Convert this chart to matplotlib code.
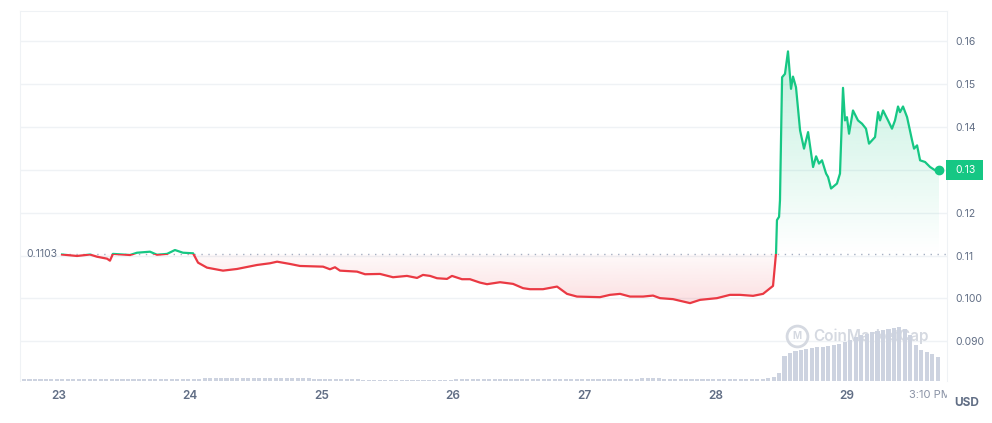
import numpy as np
import matplotlib.pyplot as plt
from matplotlib.colors import to_rgb
from matplotlib.patches import Rectangle
from matplotlib.path import Path
from matplotlib.transforms import blended_transform_factory, Bbox, TransformedBbox

plt.rcParams['font.family'] = ['Inter', 'DejaVu Sans']

# price series (x = day of month, fractional)
days = [23.023, 23.137, 23.236, 23.289, 23.366, 23.388, 23.411, 23.541, 23.594, 23.693,
        23.746, 23.823, 23.883, 23.944, 24.021, 24.059, 24.127, 24.249, 24.356, 24.508,
        24.607, 24.661, 24.759, 24.835, 25.011, 25.064, 25.102, 25.140, 25.270, 25.331,
        25.445, 25.544, 25.650, 25.727, 25.772, 25.826, 25.879, 25.955, 25.993, 26.069,
        26.130, 26.206, 26.260, 26.359, 26.382, 26.458, 26.534, 26.587, 26.686, 26.793,
        26.869, 26.945, 27.120, 27.196, 27.273, 27.349, 27.448, 27.524, 27.577, 27.676,
        27.806, 27.882, 28.011, 28.110, 28.186, 28.286, 28.362, 28.438, 28.461, 28.468,
        28.484, 28.491, 28.507, 28.529, 28.552, 28.575, 28.590, 28.613, 28.644, 28.674,
        28.705, 28.743, 28.766, 28.788, 28.811, 28.842, 28.857, 28.880, 28.925, 28.948,
        28.971, 28.986, 29.001, 29.017, 29.047, 29.085, 29.116, 29.146, 29.169, 29.215,
        29.238, 29.253, 29.276, 29.314, 29.344, 29.367, 29.390, 29.405, 29.428, 29.459,
        29.497, 29.512, 29.535, 29.558, 29.596, 29.634, 29.672, 29.702]
price = [0.11025, 0.10991, 0.11025, 0.10974, 0.10928, 0.10881, 0.11040, 0.11014, 0.11067, 0.11091,
         0.11020, 0.11040, 0.11130, 0.11067, 0.11054, 0.10835, 0.10719, 0.10649, 0.10688, 0.10781,
         0.10821, 0.10858, 0.10805, 0.10758, 0.10742, 0.10681, 0.10728, 0.10649, 0.10626, 0.10565,
         0.10572, 0.10495, 0.10526, 0.10479, 0.10549, 0.10526, 0.10472, 0.10456, 0.10526, 0.10449,
         0.10449, 0.10370, 0.10333, 0.10379, 0.10370, 0.10340, 0.10240, 0.10216, 0.10216, 0.10277,
         0.10107, 0.10044, 0.10030, 0.10084, 0.10107, 0.10044, 0.10044, 0.10067, 0.10007, 0.09984,
         0.09891, 0.09967, 0.10007, 0.10084, 0.10084, 0.10061, 0.10107, 0.10293, 0.11061, 0.11828,
         0.11905, 0.12293, 0.15161, 0.15240, 0.15765, 0.14891, 0.15177, 0.14928, 0.13921, 0.13495,
         0.13881, 0.13067, 0.13316, 0.13147, 0.13223, 0.12914, 0.12835, 0.12565, 0.12681, 0.12914,
         0.14914, 0.14154, 0.14230, 0.13844, 0.14386, 0.14154, 0.14077, 0.13961, 0.13612, 0.13765,
         0.14347, 0.14154, 0.14386, 0.14154, 0.13961, 0.14154, 0.14479, 0.14347, 0.14479, 0.14230,
         0.13688, 0.13495, 0.13572, 0.13223, 0.13184, 0.13067, 0.12991, 0.12991]
base_price = 0.1103

# hourly volume bars (relative units), starting at vol_start
vol_start = 22.734
volume = [2.5, 2.5, 2.5, 2.5, 2.5, 2.5, 2.5, 2.5, 2.5, 2.5, 2.5, 2.5, 2.5, 2.5, 2.5, 2.5, 2.5,
          2.5, 2.5, 2.5, 2.5, 2.5, 2.5, 2.5, 2.5, 2.5, 2.5, 2.5, 2.5, 2.5, 2.5, 2.5, 2.5,
          3.5, 3.5, 3.5, 3.5, 3.5, 3.5, 3.5, 3.5, 3.5, 3.5, 3.5, 3.5, 3.5, 3.5, 3.5, 3.5, 3.5, 3.5, 3.5, 3.5,
          2.5, 2.5, 2.5, 2.5, 2.5, 2.5, 2.5, 2.5, 2.5,
          1.5, 1.5, 1.5, 1.5, 1.5, 1.5, 1.5, 1.5, 1.5, 1.5, 1.5, 1.5, 1.5, 1.5, 1.5, 1.5, 1.5,
          2.5, 2.5, 2.5, 2.5, 2.5, 2.5, 2.5, 2.5, 2.5,
          2, 2, 2, 2, 2, 2, 2, 2, 2, 2, 2, 2, 2, 2, 2, 2, 2, 2, 2, 2, 2, 2, 2, 2, 2,
          3, 3, 3, 3,
          2, 2, 2, 2, 2, 2, 2, 2, 2, 2, 2, 2, 2, 2, 2, 2, 2, 2, 2, 3, 4,
          8, 25, 28, 30, 31, 32, 33, 34, 34, 35, 36, 37, 39, 41, 44, 46, 47, 49, 50, 51,
          52, 53, 54, 52, 46, 36, 31, 29, 27, 24]

day_ticks = [23, 24, 25, 26, 27, 28, 29]
last_tick = 29.632
y_ticks = [0.09, 0.10, 0.11, 0.12, 0.13, 0.14, 0.15, 0.16]
y_labels = ['0.090', '0.100', '0.11', '0.12', '', '0.14', '0.15', '0.16']

GREEN = '#16c784'
RED = '#ea3943'
GRAY = '#616e85'

x = np.array(days)
y = np.array(price)

fig = plt.figure(figsize=(9.92, 4.23), dpi=100)
rect = [20 / 992, 42 / 423, 927 / 992, 370 / 423]
ax = fig.add_axes(rect)


# gradient fills under/over the baseline
def grad_fill(coll, color, y0, y1, a0, a1):
    paths = coll.get_paths()
    if not paths:
        return
    clip = Path.make_compound_path(*paths)
    rgba = np.zeros((256, 1, 4))
    rgba[..., :3] = to_rgb(color)
    rgba[:, 0, 3] = np.linspace(a0, a1, 256)
    im = ax.imshow(rgba, extent=[x.min(), x.max(), y0, y1], origin='lower',
                   aspect='auto', zorder=1, interpolation='bilinear')
    im.set_clip_path(clip, transform=ax.transData)


up = ax.fill_between(x, y, base_price, where=y >= base_price, interpolate=True,
                     facecolor='none', edgecolor='none')
dn = ax.fill_between(x, y, base_price, where=y <= base_price, interpolate=True,
                     facecolor='none', edgecolor='none')
grad_fill(up, GREEN, base_price, y.max(), 0.0, 0.26)
grad_fill(dn, RED, y.min(), base_price, 0.16, 0.03)

# price line: green above baseline, red below
l1, = ax.plot(x, y, color=GREEN, lw=1.6, zorder=3, solid_joinstyle='round')
l1.set_clip_path(Rectangle((20, base_price), 20, 1, transform=ax.transData))
l2, = ax.plot(x, y, color=RED, lw=1.6, zorder=3, solid_joinstyle='round')
l2.set_clip_path(Rectangle((20, 0), 20, base_price, transform=ax.transData))
ax.plot(x[-1], y[-1], 'o', ms=6, color=GREEN, zorder=4, clip_on=False)

ax.hlines(base_price, x[0], 29.763, colors='#a6b0c3', linestyles=(0, (1, 4)), lw=1, zorder=2)
ax.annotate('0.1103', xy=(x[0], base_price), xytext=(-3, 0), textcoords='offset points',
            ha='right', va='center', fontsize=7.5, color=GRAY)

# watermark
ax.text(813 / 992, 1 - 336 / 423, 'CoinMarketCap', transform=fig.transFigure,
        fontsize=11, fontweight='semibold', color='#d5d9e1', va='center', ha='left')
ax.plot([797 / 992], [1 - 336 / 423], marker='o', ms=15, mfc='none', mec='#d5d9e1',
        mew=2, transform=fig.transFigure, clip_on=False)
ax.text(797 / 992, 1 - 336 / 423, 'M', transform=fig.transFigure, fontsize=7,
        fontweight='bold', color='#d5d9e1', ha='center', va='center')

ax.set_xlim(22.703, 29.763)
ax.set_ylim(0.08074, 0.16707)

ax.set_yticks(y_ticks, y_labels)
ax.yaxis.tick_right()
ax.tick_params(axis='y', length=0, pad=6, labelsize=7.5, labelcolor=GRAY)
ax.grid(axis='y', color='#eff2f5', lw=1)
ax.set_axisbelow(True)

ax.set_xticks(day_ticks + [last_tick], [str(d) for d in day_ticks] + ['3:10 PM'])
ax.tick_params(axis='x', length=0, pad=6.5, labelsize=8.5, labelcolor=GRAY)
labels = ax.get_xticklabels()
for lab in labels[:-1]:
    lab.set_fontweight('semibold')
labels[-1].set_color('#8a93a6')
labels[-1].set_fontsize(8)
labels[-1].set_clip_box(TransformedBbox(Bbox([[0, 0], [947 / 992, 1]]), fig.transFigure))
labels[-1].set_clip_on(True)

for side in ['left', 'top', 'right']:
    ax.spines[side].set_color('#eff2f5')
ax.spines['bottom'].set_visible(False)

# current price tag
trans = blended_transform_factory(ax.transAxes, ax.transData)
ax.add_patch(Rectangle((1 - 1 / 927, y[-1] - 0.00233), 37 / 927, 0.00467, transform=trans,
                       facecolor=GREEN, edgecolor='none', clip_on=False, zorder=5))
ax.annotate('0.13', xy=(1, y[-1]), xycoords=('axes fraction', 'data'), xytext=(6, 0),
            textcoords='offset points', ha='left', va='center', fontsize=7.5,
            color='white', zorder=6)

fig.text(967 / 992, 1 - 403 / 423, 'USD', ha='center', va='center', fontsize=8.5,
         fontweight='bold', color=GRAY)

# volume bars on their own axes
vol = fig.add_axes(rect, sharex=ax)
vol_times = vol_start + np.arange(len(volume)) / 24
vol.bar(vol_times, volume, width=0.75 / 24, color='#cdd3e0', align='center')
vol.set_ylim(0, 370)
vol.axis('off')
vol.set_xlim(22.703, 29.763)

fig.savefig('out.png', dpi=100)
